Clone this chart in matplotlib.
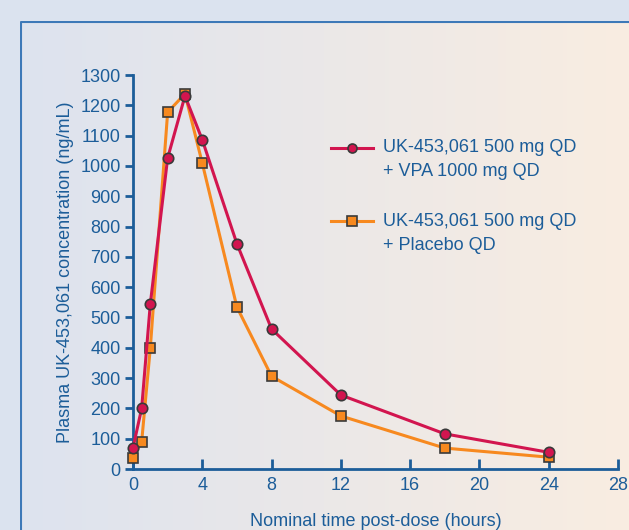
import numpy as np
import matplotlib.pyplot as plt
from matplotlib.lines import Line2D

# nominal sampling times (hours)
times = [0, 0.5, 1, 2, 3, 4, 6, 8, 12, 18, 24]
# mean plasma concentration (ng/mL)
conc_vpa = [70, 200, 545, 1026, 1231, 1086, 743, 462, 244, 116, 55]
conc_placebo = [37, 90, 400, 1177, 1238, 1009, 534, 306, 175, 69, 39]

lbl_vpa = ["UK-453,061 500 mg QD", "+ VPA 1000 mg QD"]
lbl_placebo = ["UK-453,061 500 mg QD", "+ Placebo QD"]
xticks = [0, 4, 8, 12, 16, 20, 24, 28]
yticks = list(range(0, 1301, 100))

blue = '#1c5d99'
red = '#d2154f'
orange = '#f7891f'
edge = '#3a3a3a'
fs = 13

plt.rcParams['font.family'] = ['Liberation Sans', 'DejaVu Sans']

W, H = 629, 530
fig = plt.figure(figsize=(W / 100, H / 100), dpi=100)
fig.patch.set_facecolor('#dbe3ef')

# panel with horizontal gradient
bg = fig.add_axes([20 / W, 0, 1 - 20 / W, (H - 21) / H])
left_c = np.array([221, 227, 239]) / 255
right_c = np.array([249, 237, 225]) / 255
t = np.linspace(0, 1, 256)
grad = left_c[None, :] * (1 - t[:, None]) + right_c[None, :] * t[:, None]
bg.imshow(grad[None, :, :], aspect='auto', extent=[0, 1, 0, 1])
bg.set_xlim(0, 1)
bg.set_ylim(0, 1)
bg.axis('off')
bg.plot([0.001, 0.001, 1], [0, 0.999, 0.999], color='#3d79b8', lw=1.5)

ax = fig.add_axes([133 / W, 61 / H, (618 - 133) / W, (469 - 75) / H])
ax.patch.set_alpha(0)
ax.plot(times, conc_placebo, color=orange, lw=2.2, marker='s', ms=7.5,
        mfc=orange, mec=edge, mew=1.2, clip_on=False, zorder=3)
ax.plot(times, conc_vpa, color=red, lw=2.2, marker='o', ms=7.5,
        mfc=red, mec=edge, mew=1.2, clip_on=False, zorder=4)

ax.set_xlim(0, 28)
ax.set_ylim(0, 1300)
ax.set_xticks(xticks)
ax.set_yticks(yticks)
for s in ['top', 'right']:
    ax.spines[s].set_visible(False)
for s in ['left', 'bottom']:
    ax.spines[s].set_color(blue)
    ax.spines[s].set_linewidth(2)
ax.tick_params(axis='y', direction='out', length=6, width=2, color=blue,
               labelcolor=blue, labelsize=fs, pad=3)
ax.tick_params(axis='x', direction='in', length=7, width=2, color=blue,
               labelcolor=blue, labelsize=fs, pad=6)

ax.set_xlabel('Nominal time post-dose (hours)', color=blue, fontsize=fs, va='center')
ax.xaxis.set_label_coords(0.5, -0.132)
ax.set_ylabel('Plasma UK-453,061 concentration (ng/mL)', color=blue, fontsize=fs, va='center')
ax.yaxis.set_label_coords(-0.140, 0.5)

# legend keys drawn by hand so the marker lines up with the first text line
for (y1, y2), lbl, col, mk in [((0.815, 0.754), lbl_vpa, red, 'o'),
                               ((0.629, 0.568), lbl_placebo, orange, 's')]:
    ax.add_line(Line2D([0.408, 0.495], [y1, y1], transform=ax.transAxes,
                       color=col, lw=2.2, clip_on=False))
    ax.add_line(Line2D([0.4515], [y1], transform=ax.transAxes, marker=mk,
                       ms=6.5, mfc=col, mec=edge, mew=1.2, clip_on=False))
    ax.text(0.5155, y1, lbl[0], transform=ax.transAxes, color=blue,
            fontsize=fs, va='center')
    ax.text(0.5155, y2, lbl[1], transform=ax.transAxes, color=blue,
            fontsize=fs, va='center')

fig.savefig('out.png', dpi=100, facecolor=fig.get_facecolor())
